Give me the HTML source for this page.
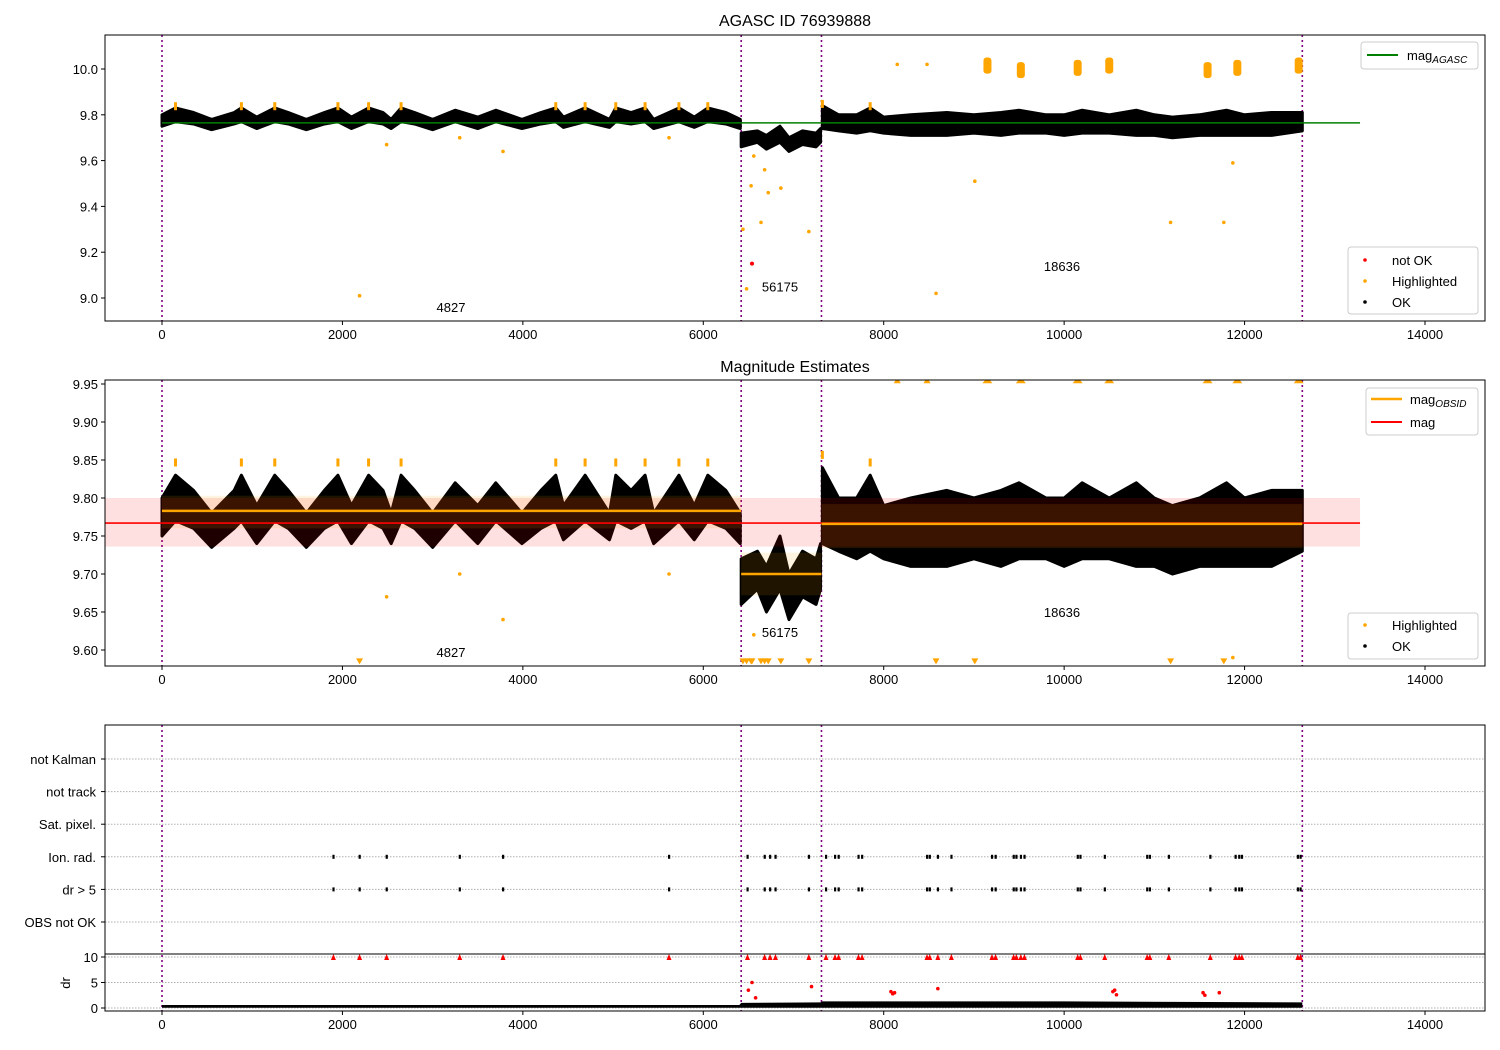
<!DOCTYPE html>
<html><head><meta charset="utf-8">
<style>
body{margin:0;background:#fff;}
svg{display:block;font-family:"Liberation Sans","DejaVu Sans",sans-serif;}
</style></head>
<body>
<svg id="fig" width="1500" height="1050" viewBox="0 0 1500 1050"></svg>
<script>
// ---- data ----
const obsBounds = [0, 6420, 7310, 12640];
const obsIds = ["4827", "56175", "18636"];
const obsLabelMag1 = [8.96, 9.05, 9.14];
const obsMean = [9.783, 9.700, 9.766];
const obsBandLo = [9.760, 9.672, 9.734];
const obsBandHi = [9.803, 9.728, 9.792];
const magMean = 9.767, magLo = 9.736, magHi = 9.800;
const agascMag = 9.765;

const knotSeg = [0,0,0,0,0,0,0,0,0,0,0,0,0,0,0,0,0,0,0,0,0,0,0,0,0,0,0,0,0,0,0,0,0,0,0,0,0,
  1,1,1,1,1,1,1,1,
  2,2,2,2,2,2,2,2,2,2,2,2,2,2,2,2,2,2,2,2,2,2];
const knotT = [0,150,350,550,800,880,1050,1250,1400,1600,1800,1950,2100,2290,2450,2540,2650,2800,3000,3250,3500,3700,3990,4200,4365,4450,4690,4960,5030,5200,5355,5450,5730,5900,6050,6250,6410,
  6420,6600,6700,6850,6950,7100,7250,7300,
  7320,7500,7700,7850,8000,8300,8700,9000,9300,9500,9800,10000,10200,10500,10800,11000,11200,11500,11800,12000,12300,12640];
const knotLo = [9.75,9.77,9.76,9.735,9.76,9.77,9.74,9.77,9.76,9.735,9.76,9.77,9.74,9.77,9.76,9.74,9.77,9.76,9.735,9.77,9.74,9.77,9.74,9.76,9.77,9.745,9.77,9.745,9.77,9.76,9.77,9.74,9.77,9.745,9.77,9.76,9.74,
  9.66,9.68,9.65,9.68,9.64,9.67,9.66,9.68,
  9.74,9.73,9.72,9.73,9.72,9.71,9.71,9.72,9.71,9.72,9.72,9.71,9.72,9.72,9.71,9.71,9.70,9.71,9.71,9.71,9.71,9.73];
const knotHi = [9.80,9.83,9.81,9.78,9.81,9.83,9.79,9.83,9.81,9.78,9.81,9.83,9.79,9.83,9.81,9.78,9.83,9.81,9.78,9.82,9.79,9.82,9.78,9.81,9.83,9.79,9.83,9.78,9.83,9.81,9.83,9.78,9.83,9.79,9.83,9.81,9.78,
  9.72,9.73,9.71,9.75,9.70,9.73,9.72,9.74,
  9.84,9.80,9.80,9.83,9.79,9.80,9.81,9.80,9.81,9.82,9.80,9.80,9.82,9.80,9.82,9.80,9.79,9.80,9.82,9.80,9.81,9.81];

const hlT = [2190,2490,3300,3780,5620,6440,6480,6530,6560,6640,6680,6720,6860,7170,8150,8480,8580,9010,11180,11770,11870];
const hlMag = [9.01,9.67,9.70,9.64,9.70,9.30,9.04,9.49,9.62,9.33,9.56,9.46,9.48,9.29,10.02,10.02,9.02,9.51,9.33,9.33,9.59];
const hiClusterT = [9150,9520,10150,10500,11590,11920,12600];
const hiClusterMag = [10.02,10.00,10.01,10.02,10.00,10.01,10.02];
const notOkT = [6540];
const notOkMag = [9.15];

const flagT = [1900,2190,2490,3300,3780,5620,6490,6680,6740,6800,7170,7360,7460,7500,7720,7760,8480,8510,8600,8750,9200,9240,9440,9470,9520,9560,10150,10180,10450,10920,10950,11160,11620,11900,11940,11970,12590,12620];
const drKnotT = [0,3000,6400,6420,7300,7320,10000,12640];
const drKnotHi = [0.6,0.6,0.6,1.0,1.1,1.3,1.3,1.1];
const drRedT = [6500,6540,6580,7200,8080,8100,8120,8600,10540,10560,10580,11540,11560,11720];
const drRedV = [3.5,5.0,2.0,4.2,3.2,2.8,3.0,3.8,3.2,3.5,2.6,3.0,2.5,3.0];

const xTicks = [0,2000,4000,6000,8000,10000,12000,14000];
const y1Ticks = [9.0,9.2,9.4,9.6,9.8,10.0];
const y2Ticks = [9.60,9.65,9.70,9.75,9.80,9.85,9.90,9.95];
const flagRows = ["OBS not OK","dr > 5","Ion. rad.","Sat. pixel.","not track","not Kalman"];
const drTicks = [0,5,10];

// ---- scales ----
const L=105, R=1485;
const sx = t => 162 + t*0.090214;
const y1 = m => 69 + (10-m)*229;
const y2 = m => 384 + (9.95-m)*760;
const yf = i => 922 - i*32.6;
const yd = v => 1008 - v*5.1;

const NS="http://www.w3.org/2000/svg";
const svg=document.getElementById('fig');
function mk(tag, attrs, parent){const e=document.createElementNS(NS,tag);for(const k in attrs)e.setAttribute(k,attrs[k]);(parent||svg).appendChild(e);return e;}
function txt(s,x,y,size,anchor,parent){const e=mk('text',{x:x,y:y,'font-size':size,'text-anchor':anchor||'middle',fill:'#000'},parent);e.textContent=s;return e;}

function clip(id,y0,y1v){const cp=mk('clipPath',{id:id});mk('rect',{x:L,y:y0,width:R-L,height:y1v-y0},cp);}
clip('c1',35,321);clip('c2',380,666);clip('c3',725,1011);

function frame(name,y0,y1v){const r=mk('rect',{x:L,y:y0,width:R-L,height:y1v-y0,fill:'none',stroke:'#000','stroke-width':1});

}

function xAxis(name,yb,labels){const g=mk('g',{});


xTicks.forEach(t=>{mk('line',{x1:sx(t),x2:sx(t),y1:yb,y2:yb+4,stroke:'#000'},g);if(labels)txt(String(t),sx(t),yb+18,13,'middle',g);});}

function vlines(g,y0,y1v){obsBounds.forEach(t=>{const l=mk('line',{x1:sx(t),x2:sx(t),y1:y0,y2:y1v,stroke:'#800080','stroke-width':1.6,'stroke-dasharray':'2,3'},g);

});}

function bandPoly(g,yfun,seg){let pts=[];let lo=[];
for(let i=0;i<knotT.length;i++){if(knotSeg[i]!==seg)continue;pts.push(sx(knotT[i])+','+yfun(knotHi[i]));lo.unshift(sx(knotT[i])+','+yfun(knotLo[i]));}
const p=mk('polygon',{points:pts.concat(lo).join(' '),fill:'#000',stroke:'#000','stroke-width':3,'stroke-linejoin':'round'},g);

}

// ===== Panel 1 =====
txt('AGASC ID 76939888',795,26,16);
const g1=mk('g',{'clip-path':'url(#c1)'});


vlines(g1,35,321);
for(let s=0;s<3;s++)bandPoly(g1,y1,s);
for(let i=0;i<knotT.length;i++){if(knotHi[i]>=9.83){const c=mk('rect',{x:sx(knotT[i])-1.5,y:y1(knotHi[i]+0.025),width:3,height:8,fill:'orange'},g1);

}}
const gl=mk('line',{x1:sx(0),x2:sx(13280),y1:y1(agascMag),y2:y1(agascMag),stroke:'green','stroke-width':1.5},g1);


hlT.forEach((t,i)=>{const c=mk('circle',{cx:sx(t),cy:y1(hlMag[i]),r:1.8,fill:'orange'},g1);

});
hiClusterT.forEach((t,i)=>{const c=mk('rect',{x:sx(t)-4,y:y1(hiClusterMag[i]+0.03),width:8,height:0.07*229,rx:3,fill:'orange'},g1);

});
notOkT.forEach((t,i)=>{const c=mk('circle',{cx:sx(t),cy:y1(notOkMag[i]),r:2,fill:'red'},g1);

});
obsIds.forEach((id,i)=>{const cx=[451,780,1062][i];const e=txt(id,cx,y1(obsLabelMag1[i])+5,13,'middle',g1);

});
frame('agasc-axes-frame',35,321);
xAxis('agasc-x-axis',321,true);
const ya1=mk('g',{});


y1Ticks.forEach(m=>{mk('line',{x1:L-4,x2:L,y1:y1(m),y2:y1(m),stroke:'#000'},ya1);txt(m.toFixed(1),L-7,y1(m)+5,13,'end',ya1);});
const lg1=mk('g',{});


mk('rect',{x:1361,y:42,width:117,height:27,rx:3,fill:'#fff',stroke:'#ccc'},lg1);
mk('line',{x1:1367,x2:1398,y1:55,y2:55,stroke:'green','stroke-width':2},lg1);
const t1=txt('',1407,60,13,'start',lg1);t1.innerHTML='mag<tspan font-size="10" font-style="italic" dy="3">AGASC</tspan>';
const lg2=mk('g',{});


mk('rect',{x:1348,y:247,width:130,height:67,rx:3,fill:'#fff',stroke:'#ccc'},lg2);
[['not OK','red',260],['Highlighted','orange',281],['OK','#000',302]].forEach(a=>{mk('circle',{cx:1365,cy:a[2],r:1.8,fill:a[1]},lg2);txt(a[0],1392,a[2]+5,13,'start',lg2);});

// ===== Panel 2 =====
txt('Magnitude Estimates',795,372,16);
const g2=mk('g',{'clip-path':'url(#c2)'});


vlines(g2,380,666);
for(let s=0;s<3;s++)bandPoly(g2,y2,s);
for(let i=0;i<knotT.length;i++){if(knotHi[i]>=9.83){const c=mk('rect',{x:sx(knotT[i])-1.5,y:y2(knotHi[i]+0.022),width:3,height:8,fill:'orange'},g2);

}}
const pb=mk('rect',{x:L,y:y2(magHi),width:sx(13280)-L,height:y2(magLo)-y2(magHi),fill:'rgba(255,0,0,0.12)'},g2);


for(let s=0;s<3;s++){const b=mk('rect',{x:sx(obsBounds[s]),y:y2(obsBandHi[s]),width:sx(obsBounds[s+1])-sx(obsBounds[s]),height:y2(obsBandLo[s])-y2(obsBandHi[s]),fill:'rgba(255,165,0,0.12)'},g2);

}
const rl=mk('line',{x1:L,x2:sx(13280),y1:y2(magMean),y2:y2(magMean),stroke:'red','stroke-width':1.6},g2);


for(let s=0;s<3;s++){const l=mk('line',{x1:sx(obsBounds[s]),x2:sx(obsBounds[s+1]),y1:y2(obsMean[s]),y2:y2(obsMean[s]),stroke:'orange','stroke-width':2.5},g2);

}
hlT.forEach((t,i)=>{const m=hlMag[i];let e;
if(m>9.955){const y=y2(9.955);e=mk('polygon',{points:`${sx(t)-3.5},${y+3} ${sx(t)+3.5},${y+3} ${sx(t)},${y-3}`,fill:'orange'},g2);}
else if(m<9.585){const y=y2(9.585);e=mk('polygon',{points:`${sx(t)-3.5},${y-3} ${sx(t)+3.5},${y-3} ${sx(t)},${y+3}`,fill:'orange'},g2);}
else e=mk('circle',{cx:sx(t),cy:y2(m),r:1.8,fill:'orange'},g2);

});
hiClusterT.forEach(t=>{const y=y2(9.955);const e=mk('polygon',{points:`${sx(t)-5},${y+3} ${sx(t)+5},${y+3} ${sx(t)},${y-3}`,fill:'orange'},g2);

});
notOkT.forEach(t=>{const y=y2(9.585);const e=mk('polygon',{points:`${sx(t)-3.5},${y-3} ${sx(t)+3.5},${y-3} ${sx(t)},${y+3}`,fill:'orange'},g2);

});
obsIds.forEach((id,i)=>{const cx=[451,780,1062][i];const cy=[652,632,612][i];const e=txt(id,cx,cy+5,13,'middle',g2);

});
frame('magnitude-axes-frame',380,666);
xAxis('magnitude-x-axis',666,true);
const ya2=mk('g',{});


y2Ticks.forEach(m=>{mk('line',{x1:L-4,x2:L,y1:y2(m),y2:y2(m),stroke:'#000'},ya2);txt(m.toFixed(2),L-7,y2(m)+5,13,'end',ya2);});
const lg3=mk('g',{});


mk('rect',{x:1366,y:388,width:112,height:47,rx:3,fill:'#fff',stroke:'#ccc'},lg3);
mk('line',{x1:1371,x2:1402,y1:399,y2:399,stroke:'orange','stroke-width':2.5},lg3);
const t3=txt('',1410,404,13,'start',lg3);t3.innerHTML='mag<tspan font-size="10" font-style="italic" dy="3">OBSID</tspan>';
mk('line',{x1:1371,x2:1402,y1:422,y2:422,stroke:'red','stroke-width':2},lg3);
txt('mag',1410,427,13,'start',lg3);
const lg4=mk('g',{});


mk('rect',{x:1348,y:613,width:130,height:46,rx:3,fill:'#fff',stroke:'#ccc'},lg4);
[['Highlighted','orange',625],['OK','#000',646]].forEach(a=>{mk('circle',{cx:1365,cy:a[2],r:1.8,fill:a[1]},lg4);txt(a[0],1392,a[2]+5,13,'start',lg4);});

// ===== Panel 3 =====
const g3=mk('g',{'clip-path':'url(#c3)'});


flagRows.forEach((r,i)=>{mk('line',{x1:L,x2:R,y1:yf(i),y2:yf(i),stroke:'#b0b0b0','stroke-dasharray':'1.5,1.5'},g3);});
drTicks.forEach(v=>{mk('line',{x1:L,x2:R,y1:yd(v),y2:yd(v),stroke:'#b0b0b0','stroke-dasharray':'1.5,1.5'},g3);});
vlines(g3,725,1011);
[1,2].forEach(row=>{flagT.forEach(t=>{const e=mk('rect',{x:sx(t)-1,y:yf(row)-2,width:2.2,height:4,fill:'#000'},g3);

});});
flagT.forEach(t=>{const y=yd(10);const e=mk('polygon',{points:`${sx(t)-2.5},${y+3} ${sx(t)+2.5},${y+3} ${sx(t)},${y-3}`,fill:'red'},g3);

});
let dp=[];for(let i=0;i<drKnotT.length;i++)dp.push(sx(drKnotT[i])+','+yd(drKnotHi[i]));
dp.push(sx(12640)+','+yd(0.05));dp.push(sx(0)+','+yd(0.05));
const drb=mk('polygon',{points:dp.join(' '),fill:'#000'},g3);


drRedT.forEach((t,i)=>{const e=mk('circle',{cx:sx(t),cy:yd(drRedV[i]),r:1.8,fill:'red'},g3);

});
frame('flags-axes-frame',725,1011);
mk('line',{x1:L,x2:R,y1:954,y2:954,stroke:'#000','stroke-width':1});
xAxis('dr-x-axis',1011,true);
const ya3=mk('g',{});


flagRows.forEach((r,i)=>{mk('line',{x1:L-4,x2:L,y1:yf(i),y2:yf(i),stroke:'#000'},ya3);txt(r,L-9,yf(i)+5,13,'end',ya3);});
drTicks.forEach(v=>{mk('line',{x1:L-4,x2:L,y1:yd(v),y2:yd(v),stroke:'#000'},ya3);txt(String(v),L-7,yd(v)+5,13,'end',ya3);});
const dl=txt('dr',70,983,13,'middle',ya3);dl.setAttribute('transform','rotate(-90 70 983)');
</script>
</body></html>
